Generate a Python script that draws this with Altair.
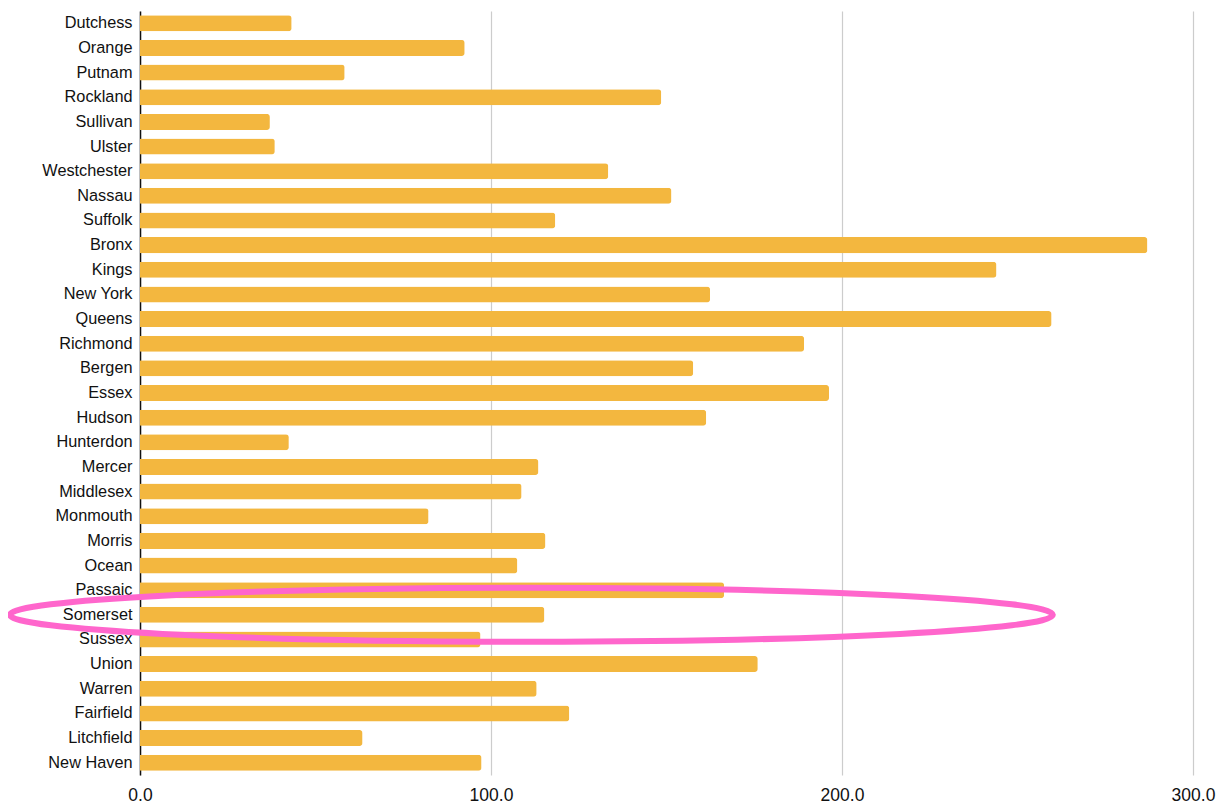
import altair as alt
import pandas as pd

counties = ["Dutchess", "Orange", "Putnam", "Rockland", "Sullivan", "Ulster",
            "Westchester", "Nassau", "Suffolk", "Bronx", "Kings", "New York",
            "Queens", "Richmond", "Bergen", "Essex", "Hudson", "Hunterdon",
            "Mercer", "Middlesex", "Monmouth", "Morris", "Ocean", "Passaic",
            "Somerset", "Sussex", "Union", "Warren", "Fairfield", "Litchfield",
            "New Haven"]
values = [43.2, 92.5, 58.3, 148.5, 37.0, 38.4, 133.4, 151.4, 118.3, 287.0,
          244.0, 162.4, 259.7, 189.2, 157.6, 196.3, 161.3, 42.4, 113.5, 108.7,
          82.2, 115.5, 107.5, 166.4, 115.2, 97.0, 176.0, 113.0, 122.3, 63.4, 97.3]
x_ticks = [0, 100, 200, 300]

# highlight annotation (ellipse around Somerset)
highlight_county = ["Somerset"]
highlight_center = [111.5]

df = pd.DataFrame({"county": counties, "value": values})
hl = pd.DataFrame({"county": highlight_county, "value": highlight_center})

b = 0.0518
k = 0.5523
ellipse = (f"M -1 0 C -1 {-k*b} {-k} {-b} 0 {-b} "
           f"C {k} {-b} 1 {-k*b} 1 0 "
           f"C 1 {k*b} {k} {b} 0 {b} "
           f"C {-k} {b} -1 {k*b} -1 0 Z")

x_scale = alt.Scale(domain=[0, 300], nice=False, zero=True)
y_scale = alt.Scale(domain=counties, paddingInner=0.35, paddingOuter=0.175)

bars = alt.Chart(df).mark_bar(color="#F3B73F", cornerRadiusEnd=3).encode(
    x=alt.X("value:Q", scale=x_scale,
            axis=alt.Axis(values=x_ticks, format=".1f", title=None, grid=True,
                          gridColor="#cccccc", gridWidth=1.2, domain=False,
                          ticks=False, labelPadding=11, labelFontSize=17.5,
                          labelFlush=False, labelOverlap=False,
                          labelColor="#111111", labelFont="Liberation Sans")),
    y=alt.Y("county:N", scale=y_scale, sort=counties,
            axis=alt.Axis(title=None, domain=True, domainColor="#111111",
                          domainWidth=1.5, ticks=False, labelPadding=8,
                          labelFontSize=16.3, labelColor="#111111",
                          labelFont="Liberation Sans", grid=False)),
)

ring = alt.Chart(hl).mark_point(
    shape=ellipse, filled=False, stroke="#FF66CC", strokeWidth=6,
    size=1043 * 1043, opacity=1,
).encode(
    x=alt.X("value:Q", scale=x_scale),
    y=alt.Y("county:N", scale=y_scale, sort=counties),
)

chart = alt.layer(bars, ring).properties(
    width=1053, height=764,
    background="white",
    autosize=alt.AutoSizeParams(type="none"),
    padding={"left": 132, "top": 3, "right": 30, "bottom": 30},
).configure_view(strokeWidth=0)

chart.save("out.html", embed_options={"renderer": "svg", "actions": False})
